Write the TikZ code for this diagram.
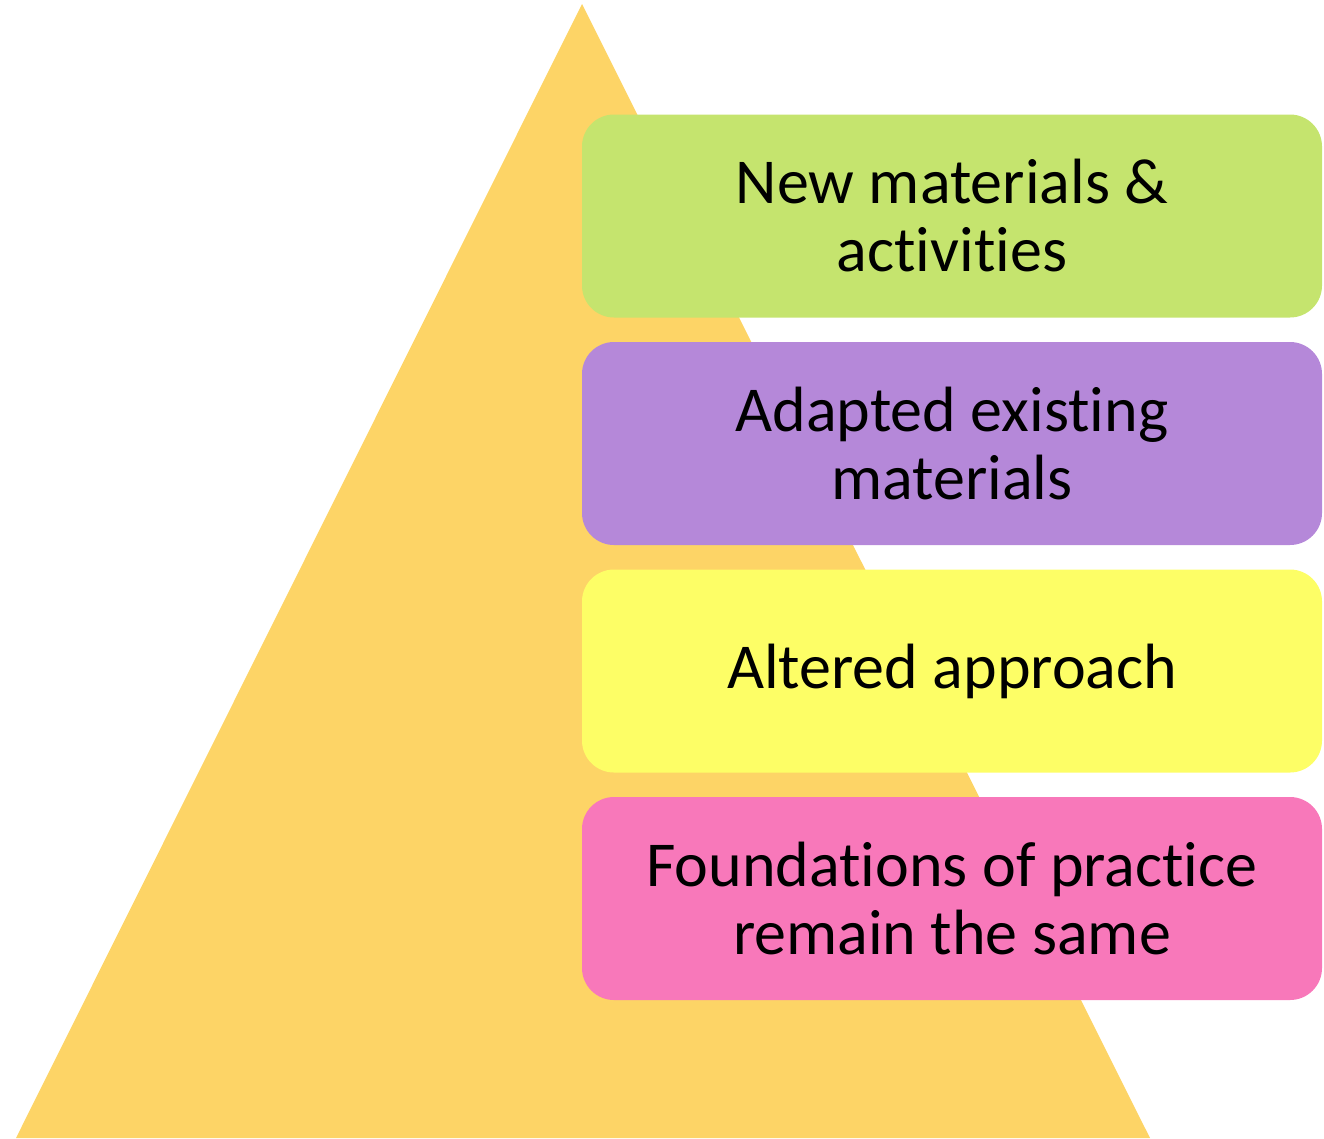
\documentclass[tikz,border=0pt]{standalone}
\usepackage{fontspec}
\setmainfont[Ligatures=NoCommon]{Carlito}
\definecolor{pyramid}{HTML}{FDD466}
\definecolor{tiergreen}{HTML}{C5E46E}
\definecolor{tierpurple}{HTML}{B588D9}
\definecolor{tieryellow}{HTML}{FDFE66}
\definecolor{tierpink}{HTML}{F878BA}
\begin{document}
\begin{tikzpicture}[x=1pt,y=-1pt,
  tier/.style={rounded corners=32pt, inner sep=0pt, minimum width=740pt,
    minimum height=203pt, align=center,
    font=\fontsize{64}{68}\selectfont, text=black}]
\useasboundingbox (0,0) rectangle (1324,1138);
% pyramid backdrop
\fill[pyramid] (582,4) -- (1150,1138) -- (16,1138) -- cycle;
% tiers, top to bottom
\node[tier, fill=tiergreen]  (t1) at (952,216) {New materials \&\\activities};
\node[tier, fill=tierpurple] (t2) at (952,443.5) {Adapted existing\\materials};
\node[tier, fill=tieryellow] (t3) at (952,671) {Altered approach};
\node[tier, fill=tierpink]   (t4) at (952,898.5) {Foundations of practice\\remain the same};
\end{tikzpicture}
\end{document}
